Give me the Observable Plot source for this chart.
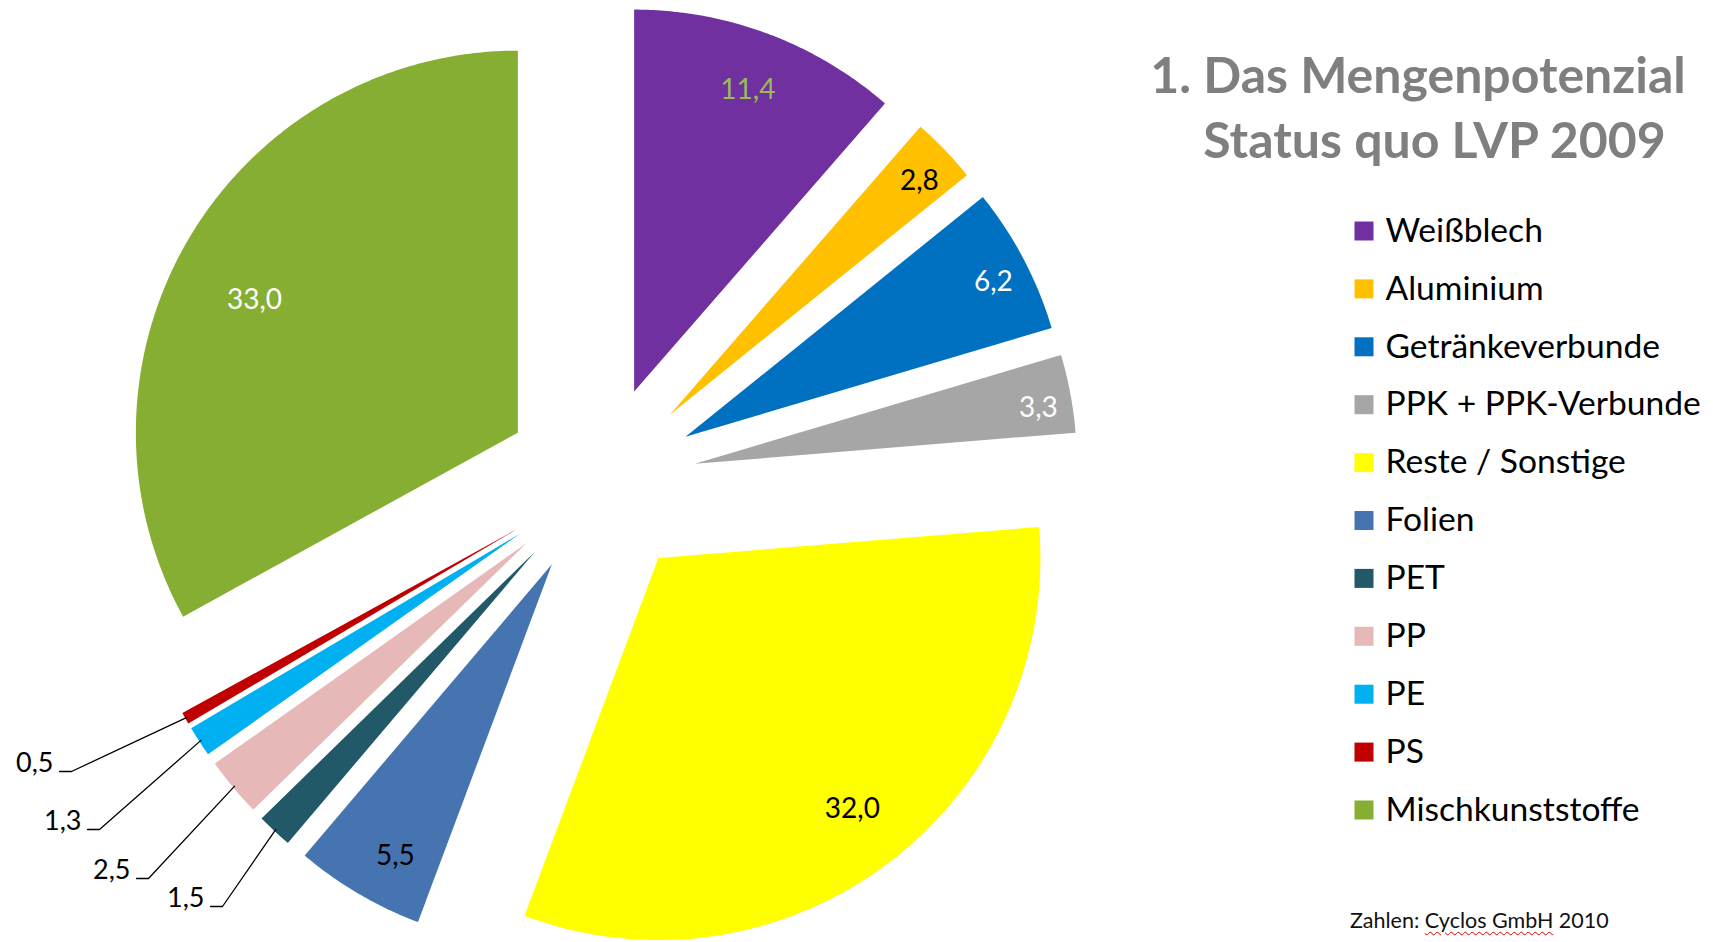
<!DOCTYPE html>
<html>
<head>
<meta charset="utf-8">
<script src="https://cdn.jsdelivr.net/npm/d3@7"></script>
<script src="https://cdn.jsdelivr.net/npm/@observablehq/plot@0.6"></script>
<style>
  html, body { margin: 0; padding: 0; background: #fff; }
  #wrap { position: relative; width: 1713px; height: 942px; overflow: hidden; }
  #caption {
    position: absolute; left: 1350px; top: 907px;
    font-family: Lato, "Open Sans", sans-serif; font-size: 21.5px; color: #111;
    white-space: nowrap;
  }
  #caption .sp { text-decoration: underline wavy #e00000; text-decoration-thickness: 1px; text-underline-offset: 3px; }
</style>
</head>
<body>
<div id="wrap">
  <div id="chart"></div>
  <div id="caption"></div>
</div>
<script>
// ---------- data ----------
const categories = ["Weißblech", "Aluminium", "Getränkeverbunde", "PPK + PPK-Verbunde", "Reste / Sonstige", "Folien", "PET", "PP", "PE", "PS", "Mischkunststoffe"];
const values = [11.4, 2.8, 6.2, 3.3, 32.0, 5.5, 1.5, 2.5, 1.3, 0.5, 33.0];
const titleLines = ["1. Das Mengenpotenzial", "Status quo LVP 2009"];
const sourceParts = ["Zahlen: ", "Cyclos GmbH", " 2010"];

// ---------- styles ----------
const sliceColors = ["#7030A0", "#FFC000", "#0070C0", "#A6A6A6", "#FFFF00", "#4674B0", "#215968", "#E6B9B8", "#00B0F0", "#C00000", "#86AE33"];
const labelInk = ["#9BBB59", "#000000", "#FFFFFF", "#FFFFFF", "#000000", "#000000", "#000000", "#000000", "#000000", "#000000", "#FFFFFF"];

// ---------- layout ----------
const W = 1713, H = 942;
const center = {x: 600, y: 481}, R = 382, explode = 96;
// in-slice label placement: radius fraction and angular nudge (degrees); null = callout outside
const labelRadius = [0.849, 0.90, 0.904, 0.912, 0.827, 0.861, null, null, null, null, 0.774];
const labelTurn   = [0, 0.5, 0.8, 1.0, -0.8, -2.0, 0, 0, 0, 0, -3.6];
// callout label anchor (start of the leader line) for outside labels
const calloutAt = {6: [210, 906], 7: [136, 878], 8: [87, 829], 9: [59, 771]};
const legendLayout = {swatchX: 1363.5, textX: 1385, y0: 230.5, step: 57.9, swatch: 19, fontSize: 33.6};
const titleLayout = {x: [1417.5, 1434], y: [92, 157], fontSize: 50};

document.getElementById("caption").innerHTML =
  sourceParts[0] + '<span class="sp">' + sourceParts[1] + '</span>' + sourceParts[2];

const fmt = v => d3.format(".1f")(v).replace(".", ",");

const data = categories.map((name, i) => ({name, value: values[i], i}));
const arcs = d3.pie().sort(null).value(d => d.value)(data);

const slicePts = [];
const labelPts = [];
const calloutLines = [];
const calloutText = [];
for (const a of arcs) {
  const mid = (a.startAngle + a.endAngle) / 2;
  const ox = center.x + explode * Math.sin(mid);
  const oy = center.y - explode * Math.cos(mid);
  const name = a.data.name, i = a.data.i;
  slicePts.push({name, x: ox, y: oy});
  const n = Math.max(2, Math.ceil((a.endAngle - a.startAngle) / (Math.PI / 360)));
  for (let k = 0; k <= n; k++) {
    const t = a.startAngle + (a.endAngle - a.startAngle) * k / n;
    slicePts.push({name, x: ox + R * Math.sin(t), y: oy - R * Math.cos(t)});
  }
  slicePts.push({name, x: ox, y: oy});
  if (labelRadius[i] != null) {
    const r = R * labelRadius[i];
    const ang = mid + labelTurn[i] * Math.PI / 180;
    labelPts.push({x: ox + r * Math.sin(ang), y: oy - r * Math.cos(ang), text: fmt(a.data.value), ink: labelInk[i]});
  } else {
    const [px, py] = calloutAt[i];
    const ex = ox + R * 0.995 * Math.sin(mid), ey = oy - R * 0.995 * Math.cos(mid);
    calloutLines.push({name, x: px, y: py}, {name, x: px + 12, y: py}, {name, x: ex, y: ey});
    calloutText.push({x: px - 6, y: py, text: fmt(a.data.value)});
  }
}

const inks = Array.from(new Set(labelPts.map(d => d.ink)));
const legendData = categories.map((name, i) => ({name, i}));

const chart = Plot.plot({
  width: W, height: H, margin: 0,
  style: {fontFamily: "Lato, 'Open Sans', sans-serif", background: "#fff"},
  x: {domain: [0, W], range: [0, W], axis: null},
  y: {domain: [0, H], range: [0, H], axis: null},
  color: {domain: categories, range: sliceColors},
  marks: [
    Plot.line(slicePts, {x: "x", y: "y", z: "name", fill: "name", stroke: "none"}),
    ...inks.map(ink => Plot.text(labelPts.filter(d => d.ink === ink), {
      x: "x", y: "y", text: "text", fill: ink, fontSize: 28, dy: 2, textAnchor: "middle", lineAnchor: "middle"
    })),
    Plot.line(calloutLines, {x: "x", y: "y", z: "name", stroke: "#000", strokeWidth: 1.3}),
    Plot.text(calloutText, {x: "x", y: "y", text: "text", fill: "#000", fontSize: 27, textAnchor: "end", lineAnchor: "bottom"}),
    // title
    Plot.text(titleLines, {
      x: (d, i) => titleLayout.x[i], y: (d, i) => titleLayout.y[i], text: d => d,
      fill: "#7F7F7F", fontWeight: "bold", fontSize: titleLayout.fontSize, textAnchor: "middle", lineAnchor: "bottom"
    }),
    // legend
    Plot.dot(legendData, {
      x: () => legendLayout.swatchX, y: d => legendLayout.y0 + d.i * legendLayout.step,
      symbol: "square", r: legendLayout.swatch / Math.sqrt(Math.PI), fill: "name", stroke: "none"
    }),
    Plot.text(legendData, {
      x: () => legendLayout.textX, y: d => legendLayout.y0 + d.i * legendLayout.step,
      text: "name", fill: "#000", fontSize: legendLayout.fontSize, textAnchor: "start", lineAnchor: "middle"
    })
  ]
});
document.getElementById("chart").appendChild(chart);
</script>
</body>
</html>
